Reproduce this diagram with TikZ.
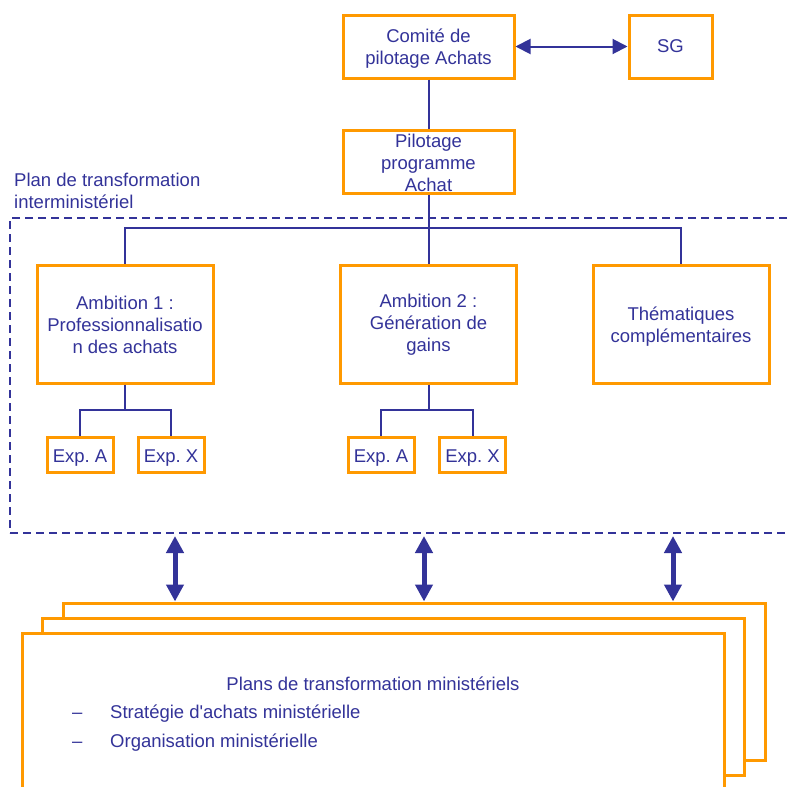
\documentclass[tikz,border=0pt]{standalone}
\usepackage{fontspec}
\setmainfont{Liberation Sans}
\usetikzlibrary{arrows.meta}
\definecolor{ora}{HTML}{FF9900}
\definecolor{blu}{HTML}{333399}
\newcommand\straightquote{\XeTeXglyph\XeTeXcharglyph"0027\relax}
\newcommand\upstrut[1]{\rule{0pt}{#1}}
\begin{document}
\frenchspacing
\begin{tikzpicture}[x=1pt,y=-1pt,
  txt/.style={text=blu, font=\fontsize{18.5}{22}\selectfont\frenchspacing},
  box/.style={txt, draw=ora, line width=3pt, fill=white, inner sep=0pt, align=center},
  page/.style={draw=ora, line width=3pt, fill=white, minimum width=702pt, minimum height=157pt, inner sep=0pt},
  link/.style={draw=blu, line width=2pt},
  thinarrow/.style={draw=blu, line width=2pt, {Triangle[length=15pt,width=15pt]}-{Triangle[length=15pt,width=15pt]}},
  bigarrow/.style={draw=blu, line width=5pt, {Triangle[length=17pt,width=17pt]}-{Triangle[length=17pt,width=17pt]}},
  planbox/.style={draw=blu, line width=2pt, dash pattern=on 8pt off 5pt, minimum width=790pt, minimum height=315pt, inner sep=0pt}
]
\useasboundingbox (0,0) rectangle (788,787);
\clip (0,0) rectangle (788,787);

% top
\node[box, minimum width=171pt, minimum height=63pt] (comite) at (428.5,46.5) {\upstrut{18.5pt}Comité de\\pilotage Achats};
\node[box, minimum width=83pt, minimum height=63pt] (sg) at (670.5,46.5) {SG};
\node[box, minimum width=171pt, minimum height=63pt] (pilot) at (428.5,161.5) {\upstrut{17pt}Pilotage\\programme\\Achat};

% dashed frame
\node[planbox] (plan) at (405,375.5) {};
\node[txt, align=left, anchor=north west, inner sep=0pt] (plantxt) at (14,172.5) {Plan de transformation\\interministériel};

% ambitions
\node[box, minimum width=176pt, minimum height=118pt] (amb1) at (125,324) {\upstrut{15pt}Ambition 1 :\\Professionnalisatio\\n des achats};
\node[box, minimum width=176pt, minimum height=118pt] (amb2) at (428.5,324) {\upstrut{15pt}Ambition 2 :\\Génération de\\gains};
\node[box, minimum width=176pt, minimum height=118pt] (them) at (681,324) {\upstrut{18.5pt}Thématiques\\complémentaires};

% experiments
\node[box, minimum width=66pt, minimum height=35pt] (e1a) at (80,454.5) {\upstrut{19pt}Exp. A};
\node[box, minimum width=66pt, minimum height=35pt] (e1x) at (171,454.5) {\upstrut{19pt}Exp. X};
\node[box, minimum width=66pt, minimum height=35pt] (e2a) at (381,454.5) {\upstrut{19pt}Exp. A};
\node[box, minimum width=66pt, minimum height=35pt] (e2x) at (472.5,454.5) {\upstrut{19pt}Exp. X};

% connectors
\draw[thinarrow] (comite.east) -- (sg.west);
\draw[link] (comite.south) -- (pilot.north);
\draw[link] (pilot.south) -- (amb2.north);
\coordinate (bus) at (0,228);
\draw[link] (amb1.north) |- (bus -| them.north) -- (them.north);
\coordinate (sub) at (0,410);
\draw[link] (amb1.south) -- (amb1.south |- sub);
\draw[link] (e1a.north) |- (e1x.north |- sub) -- (e1x.north);
\draw[link] (amb2.south) -- (amb2.south |- sub);
\draw[link] (e2a.north) |- (e2x.north |- sub) -- (e2x.north);

% pages
\node[page] (back) at (414,681.5) {};
\node[page] (middle) at (393.5,696.5) {};
\node[page, minimum height=200pt] (front) at (373,733) {};

\node[txt, anchor=base, inner sep=0pt] (ptitle) at (373,690) {Plans de transformation ministériels};
\node[txt, anchor=base west, inner sep=0pt] (d1) at (72,718) {–};
\node[txt, anchor=base west, inner sep=0pt] (l1) at (110,718) {Stratégie d\straightquote achats ministérielle};
\node[txt, anchor=base west, inner sep=0pt] (d2) at (72,747) {–};
\node[txt, anchor=base west, inner sep=0pt] (l2) at (110,747) {Organisation ministérielle};

% big arrows
\coordinate (a1) at (175,536);
\coordinate (a2) at (424,536);
\coordinate (a3) at (673,536);
\draw[bigarrow] (a1) -- (a1 |- back.north);
\draw[bigarrow] (a2) -- (a2 |- back.north);
\draw[bigarrow] (a3) -- (a3 |- back.north);
\end{tikzpicture}
\end{document}
